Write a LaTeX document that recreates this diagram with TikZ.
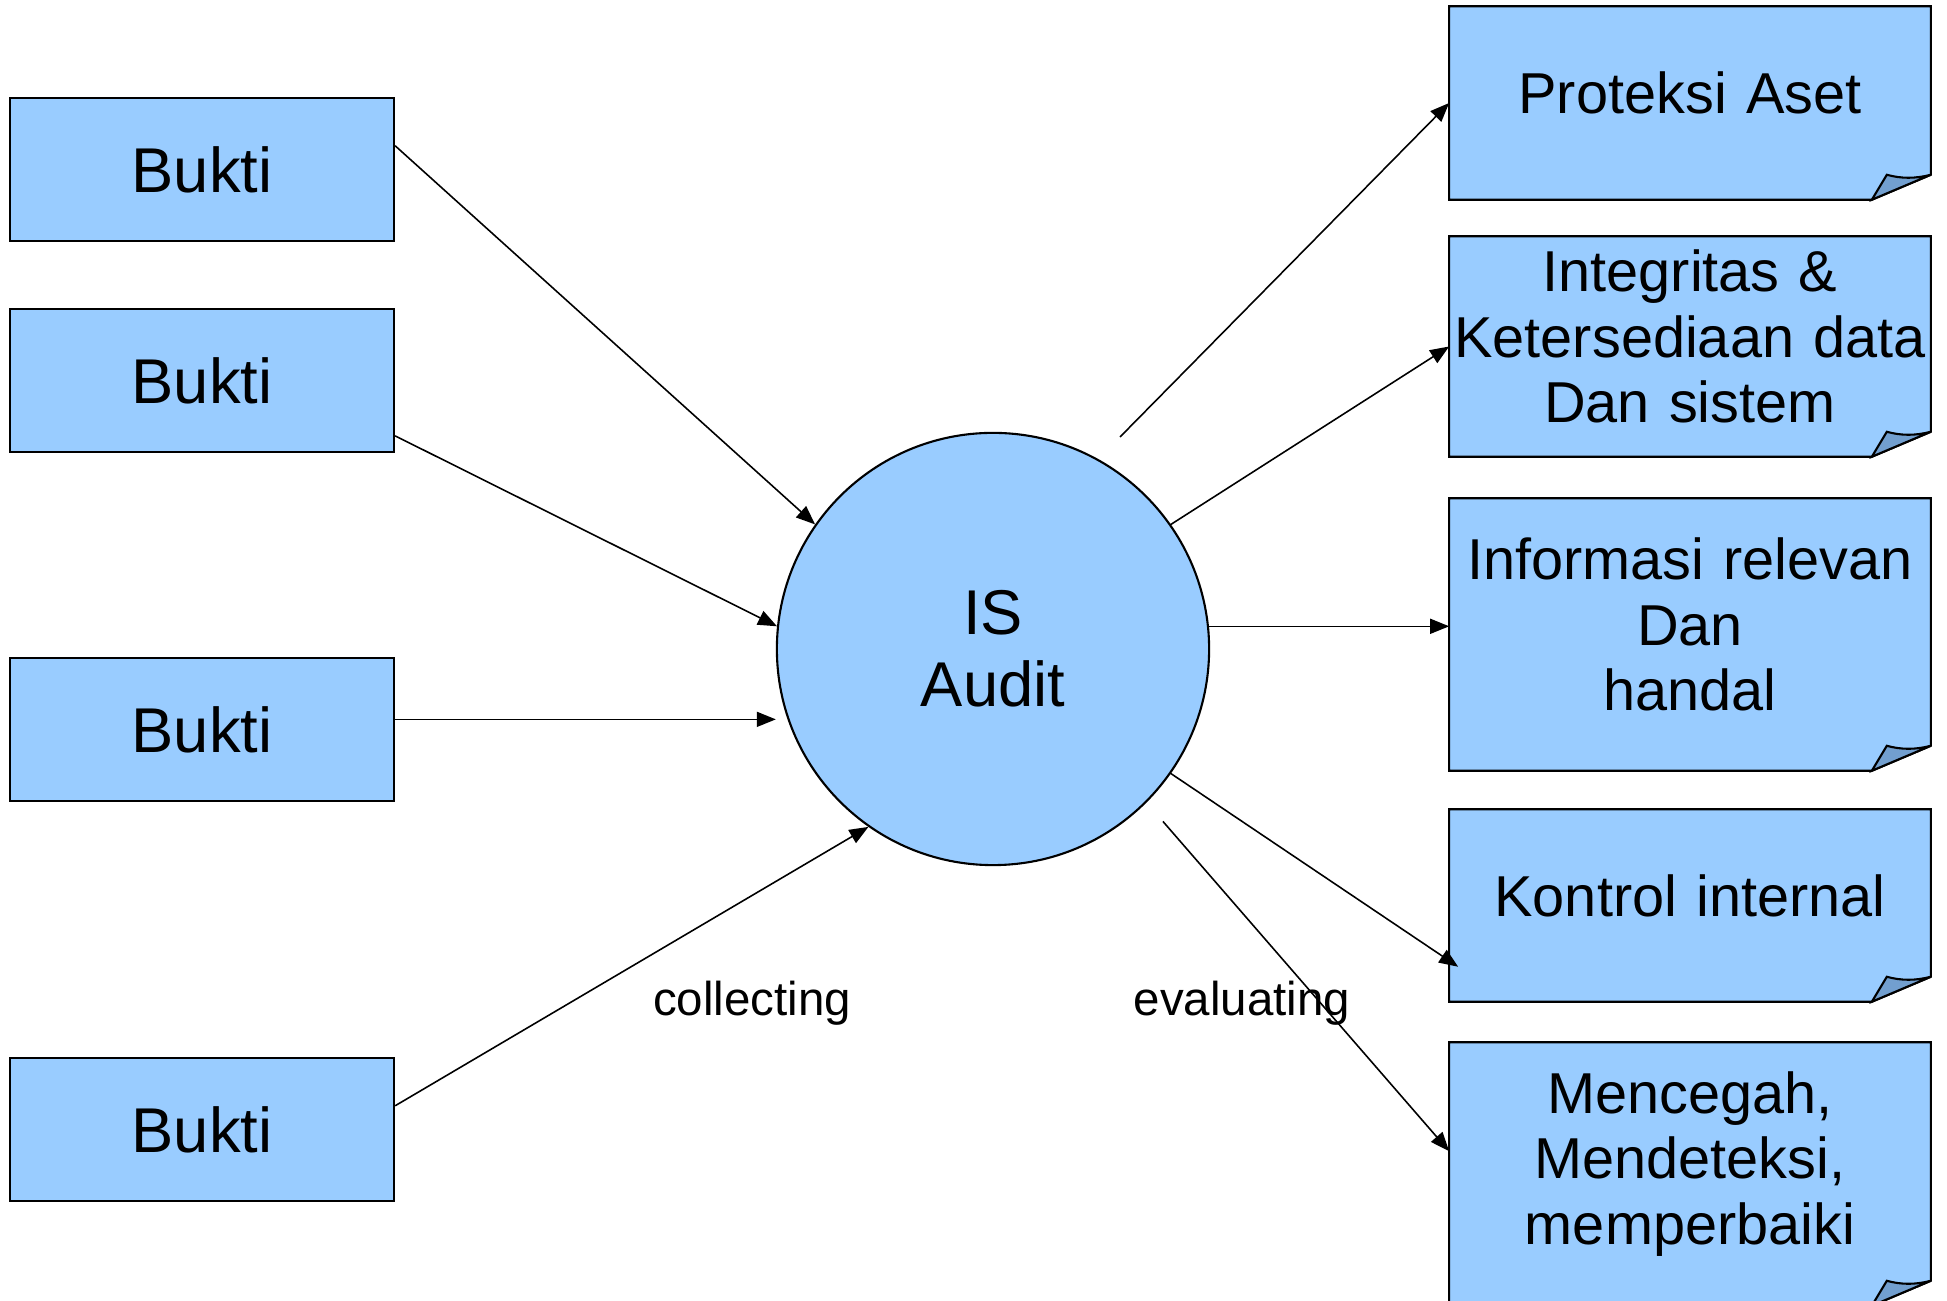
\documentclass[tikz,border=0pt]{standalone}
\usepackage{fontspec}
\setmainfont{Liberation Sans}
\usepackage{tikz}
\usetikzlibrary{arrows.meta,positioning,backgrounds}
\definecolor{boxblue}{RGB}{153,204,255}
\definecolor{folded}{HTML}{729FCF}
\tikzset{
  basic/.style  = {font=\fontsize{18}{20.5}\selectfont, align=center, inner sep=0pt},
  bukti/.style  = {basic, draw, fill=boxblue, line width=0.6pt,
                   minimum width=3.84cm, minimum height=1.43cm},
  audit/.style  = {basic, draw, fill=boxblue, circle, line width=0.6pt,
                   minimum size=4.32cm},
  hasil/.style  = {basic, font=\fontsize{16.4}{18.6}\selectfont,
                   text width=4.8cm, minimum width=4.8cm,
                   execute at end node={\par\kern0.2cm}},
  verb/.style   = {font=\fontsize{13.5}{16}\selectfont, inner sep=0pt},
  link/.style   = {-{Triangle[length=0.19cm,width=0.15cm]}, line width=0.45pt}
}

\begin{document}
\begin{tikzpicture}[x=0.01cm, y=-0.01cm]

\clip (0,0) rectangle (1947,1301);

% evidence on the left, results on the right
\node[bukti] (b1) at (202,169.5) {Bukti};
\node[bukti] (b2) at (202,380.5) {Bukti};
\node[bukti] (b3) at (202,729.5) {Bukti};
\node[bukti] (b4) at (202,1129.5) {Bukti};

\node[audit] (is) at (993,649) {IS\\Audit};

\node[hasil, minimum height=1.92cm] (h1) at (1690,103) {Proteksi Aset};
\node[hasil, minimum height=2.19cm] (h2) at (1690,346.5) {Integritas \&\\Ketersediaan data\\Dan sistem};
\node[hasil, minimum height=2.71cm] (h3) at (1690,634.5) {Informasi relevan\\Dan\\handal};
\node[hasil, minimum height=1.91cm] (h4) at (1690,905.5) {Kontrol internal};
\node[hasil, minimum height=2.62cm] (h5) at (1690,1174) {Mencegah,\\Mendeteksi,\\memperbaiki};

\node[verb] (col) at (752,1003) {collecting};
\node[verb] (eva) at (1242,1003) {evaluating};

\begin{scope}[on background layer]
\fill[white] (0,0) rectangle (1947,1301);
\foreach \i in {1,...,5} {
  \filldraw[fill=boxblue, line width=0.6pt] (h\i.south west) -- (h\i.north west) -- (h\i.north east)
    -- ([shift={(0,-25)}]h\i.south east) -- ([shift={(-59,0)}]h\i.south east) -- cycle;
  \filldraw[fill=folded, line width=0.6pt] ([shift={(-59,0)}]h\i.south east) -- ([shift={(-44,-25)}]h\i.south east)
    .. controls ([shift={(-30,-21)}]h\i.south east) and ([shift={(-15,-21)}]h\i.south east) .. ([shift={(0,-25)}]h\i.south east) -- cycle;
}
\end{scope}

\foreach \src/\ang in {b1.7/145, b2.-16/174, b4.7/235}
  \draw[link] (\src) -- (is.\ang);
\draw[link] (b3.3) -- (b3.3 -| is.west);

\draw[link, shorten <=0.31cm] (is.61) -- (h1.west);
\draw[link] (is.35) -- (h2.west);
\draw[link] (is.6) -- (is.6 -| h3.west);
\draw[link] (is.-35) -- ([shift={(9,-35)}]h4.south west);
\draw[link, shorten <=0.25cm] (is.-45) -- ([shift={(0,109)}]h5.north west);

\end{tikzpicture}
\end{document}
